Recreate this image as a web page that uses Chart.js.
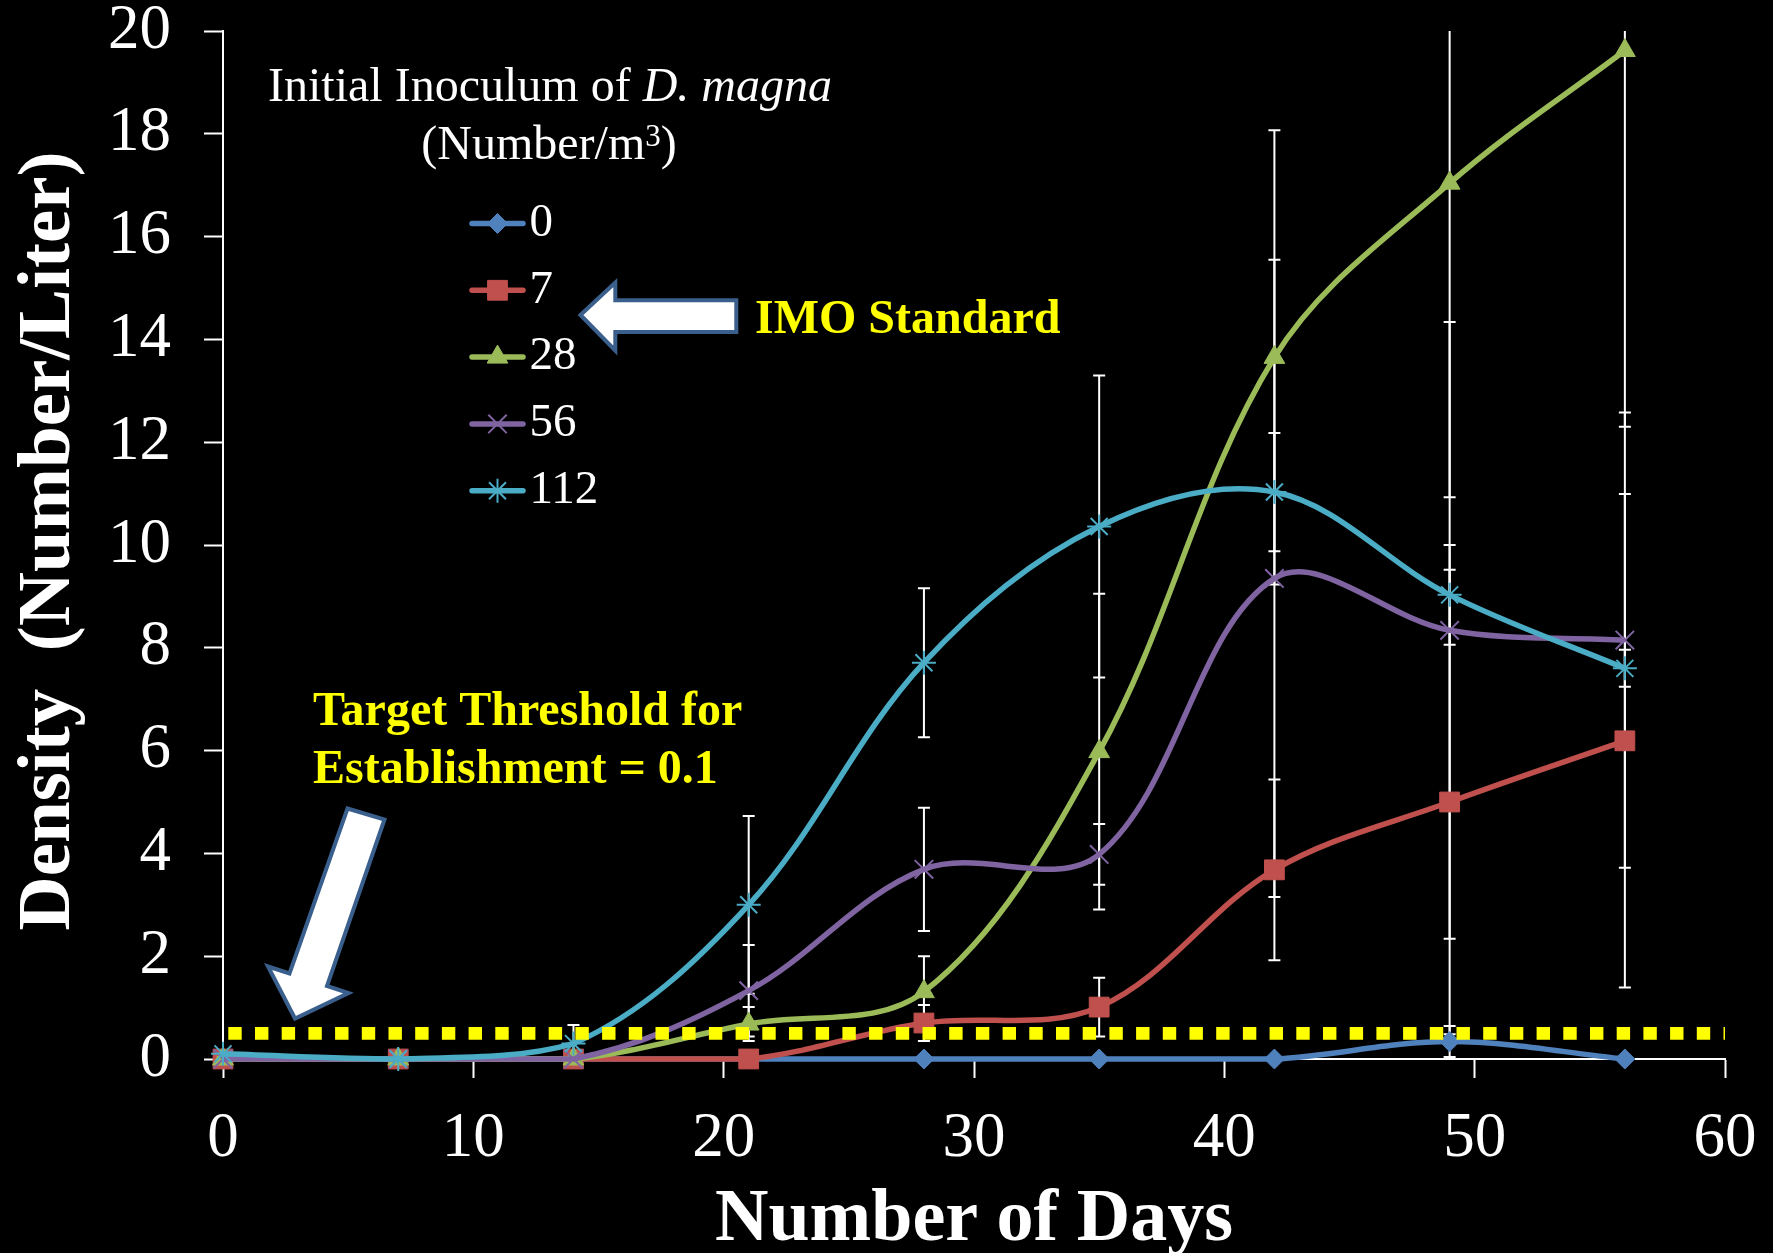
<!DOCTYPE html>
<html>
<head>
<meta charset="utf-8">
<script src="https://cdn.jsdelivr.net/npm/chart.js@4.4.1/dist/chart.umd.min.js"></script>
<style>
  html, body { margin: 0; padding: 0; background: #000; }
  #wrap { width: 1773px; height: 1253px; position: relative; }
  canvas { display: block; }
</style>
</head>
<body>
<div id="wrap"><canvas id="c"></canvas></div>
<script>
// ---------------- data ----------------
const days = [0, 7, 14, 21, 28, 35, 42, 49, 56];
const seriesNames = ['0', '7', '28', '56', '112'];
const density0   = [0, 0, 0, 0, 0, 0, 0, 0.34, 0];
const density7   = [0, 0, 0, 0, 0.70, 1.01, 3.68, 5.00, 6.19];
const density28  = [0, 0, 0, 0.68, 1.31, 5.98, 13.65, 17.04, 19.62];
const density56  = [0, 0, 0, 1.33, 3.69, 3.98, 9.35, 8.34, 8.15];
const density112 = [0.10, 0, 0.30, 3.00, 7.71, 10.36, 11.03, 9.03, 7.60];
const err0   = [0, 0, 0, 0, 0, 0, 0, 0.30, 0];
const err7   = [0, 0, 0, 0, 0.35, 0.57, 1.76, 4.52, 4.80];
const err28  = [0, 0, 0, 0.33, 0.69, 3.07, 4.42, 6.11, 7.32];
const err56  = [0, 0, 0, 0.89, 1.20, 0.59, 6.20, 6.00, 4.43];
const err112 = [0, 0, 0.36, 1.73, 1.45, 2.94, 1.15, 0.97, 0.36];
const thresholdLevel = 0.5;          // drawn level of the yellow threshold line
const thresholdSpan = [0, 60];       // days covered by the threshold line
const xTickValues = [0, 10, 20, 30, 40, 50, 60];
const yTickValues = [0, 2, 4, 6, 8, 10, 12, 14, 16, 18, 20];

const legendTitle1 = ['Initial Inoculum of ', 'D. magna'];
const legendTitle2 = ['(Number/m', '3', ')'];
const xTitle = 'Number of Days';
const yTitle = 'Density  (Number/Liter)';
const noteIMO = 'IMO Standard';
const noteTarget = ['Target Threshold for', 'Establishment = 0.1'];

// ---------------- styles ----------------
const SERIF = "'Liberation Serif', 'Times New Roman', serif";
const values = [density0, density7, density28, density56, density112];
const errors = [err0, err7, err28, err56, err112];
const looks = [
  { color: '#4F81BD', point: 'rectRot',  r: 10, bw: 1 },
  { color: '#C0504D', point: 'rect',     r: 14, bw: 1 },
  { color: '#9BBB59', point: 'triangle', r: 12, bw: 1 },
  { color: '#8064A2', point: 'crossRot', r: 13, bw: 2 },
  { color: '#4BACC6', point: 'star',     r: 12, bw: 2 }
];

const datasets = values.map((vals, s) => ({
  label: seriesNames[s],
  data: days.map((d, i) => ({ x: d, y: vals[i] })),
  borderColor: looks[s].color,
  backgroundColor: looks[s].color,
  borderWidth: 5.5,
  tension: 0.35,
  pointStyle: looks[s].point,
  pointRadius: looks[s].r,
  pointBorderWidth: looks[s].bw,
  pointBorderColor: looks[s].color,
  pointBackgroundColor: looks[s].color,
  clip: 12,
  order: 10 - s
}));
datasets.push({
  label: 'threshold',
  data: thresholdSpan.map(d => ({ x: d, y: thresholdLevel })),
  borderColor: '#FFFF00',
  borderWidth: 12.7,
  borderDash: [13.4, 13.3],
  borderDashOffset: -5.3,
  borderCapStyle: 'butt',
  pointRadius: 0,
  tension: 0,
  order: 0
});

// ---------------- plugins ----------------
const bgPlugin = {
  id: 'bg',
  beforeDraw(chart) {
    const ctx = chart.ctx;
    ctx.save();
    ctx.fillStyle = '#000';
    ctx.fillRect(0, 0, chart.width, chart.height);
    ctx.restore();
  }
};

const errorBarPlugin = {
  id: 'errorBars',
  beforeDatasetsDraw(chart) {
    const { ctx, chartArea, scales } = chart;
    const x = scales.x, y = scales.y;
    ctx.save();
    ctx.beginPath();
    ctx.rect(chartArea.left, chartArea.top, chartArea.right - chartArea.left, chartArea.bottom - chartArea.top);
    ctx.clip();
    ctx.strokeStyle = '#FFFFFF';
    ctx.lineWidth = 2;
    values.forEach((vals, s) => {
      vals.forEach((v, i) => {
        const e = errors[s][i];
        if (!e) return;
        const px = x.getPixelForValue(days[i]);
        const pt = y.getPixelForValue(v + e);
        const pb = y.getPixelForValue(v - e);
        ctx.beginPath();
        ctx.moveTo(px, pt); ctx.lineTo(px, pb);
        ctx.moveTo(px - 6, pt); ctx.lineTo(px + 6, pt);
        ctx.moveTo(px - 6, pb); ctx.lineTo(px + 6, pb);
        ctx.stroke();
      });
    });
    ctx.restore();
  }
};

function drawMarker(ctx, look, cx, cy) {
  ctx.save();
  ctx.fillStyle = look.color;
  ctx.strokeStyle = look.color;
  ctx.lineWidth = look.bw;
  if (Chart.helpers && Chart.helpers.drawPoint) {
    Chart.helpers.drawPoint(ctx, { pointStyle: look.point, radius: look.r, borderWidth: look.bw, rotation: 0 }, cx, cy);
  }
  ctx.restore();
}

function polygon(ctx, pts) {
  ctx.beginPath();
  ctx.moveTo(pts[0][0], pts[0][1]);
  for (let i = 1; i < pts.length; i++) ctx.lineTo(pts[i][0], pts[i][1]);
  ctx.closePath();
  ctx.fillStyle = '#FFFFFF';
  ctx.fill();
  ctx.lineWidth = 4;
  ctx.lineJoin = 'miter';
  ctx.strokeStyle = '#3A5F8C';
  ctx.stroke();
}

const annotationPlugin = {
  id: 'annotations',
  afterDraw(chart) {
    const ctx = chart.ctx;
    const area = chart.chartArea;
    ctx.save();

    // axis titles
    ctx.fillStyle = '#FFFFFF';
    ctx.font = 'bold 74px ' + SERIF;
    ctx.textAlign = 'center';
    ctx.textBaseline = 'alphabetic';
    ctx.fillText(xTitle, (area.left + area.right) / 2, 1240);
    ctx.save();
    ctx.translate(69, 541);
    ctx.rotate(-Math.PI / 2);
    ctx.font = 'bold 75px ' + SERIF;
    ctx.fillText(yTitle, 0, 0);
    ctx.restore();

    // legend title
    ctx.textAlign = 'left';
    ctx.font = '48px ' + SERIF;
    const w1a = ctx.measureText(legendTitle1[0]).width;
    ctx.font = 'italic 48px ' + SERIF;
    const w1b = ctx.measureText(legendTitle1[1]).width;
    let sx = 550 - (w1a + w1b) / 2;
    ctx.font = '48px ' + SERIF;
    ctx.fillText(legendTitle1[0], sx, 101);
    ctx.font = 'italic 48px ' + SERIF;
    ctx.fillText(legendTitle1[1], sx + w1a, 101);

    ctx.font = '48px ' + SERIF;
    const w2a = ctx.measureText(legendTitle2[0]).width;
    const w2c = ctx.measureText(legendTitle2[2]).width;
    ctx.font = '31px ' + SERIF;
    const w2b = ctx.measureText(legendTitle2[1]).width;
    sx = 549 - (w2a + w2b + w2c) / 2;
    ctx.font = '48px ' + SERIF;
    ctx.fillText(legendTitle2[0], sx, 159);
    ctx.font = '31px ' + SERIF;
    ctx.fillText(legendTitle2[1], sx + w2a, 146);
    ctx.font = '48px ' + SERIF;
    ctx.fillText(legendTitle2[2], sx + w2a + w2b, 159);

    // legend items
    const itemY0 = 223.5, itemStep = 66.8;
    seriesNames.forEach((name, s) => {
      const cy = itemY0 + s * itemStep;
      ctx.save();
      ctx.strokeStyle = looks[s].color;
      ctx.lineWidth = 5.5;
      ctx.lineCap = 'round';
      ctx.beginPath();
      ctx.moveTo(472, cy); ctx.lineTo(523, cy);
      ctx.stroke();
      ctx.restore();
      drawMarker(ctx, looks[s], 497.5, cy);
      ctx.fillStyle = '#FFFFFF';
      ctx.font = '47px ' + SERIF;
      ctx.textAlign = 'left';
      ctx.textBaseline = 'middle';
      ctx.fillText(name, 529.5, cy);
    });

    // arrows
    polygon(ctx, [[580.5, 315], [615.3, 282.5], [615.3, 300.3], [736.3, 300.3], [736.3, 332], [615.3, 332], [615.3, 350.5]]);
    polygon(ctx, [[347.5, 808.5], [384.5, 819.5], [327, 986], [348.5, 993], [295, 1018.5], [268, 966.5], [289.5, 973.5]]);

    // yellow notes
    ctx.fillStyle = '#FFFF00';
    ctx.font = 'bold 48px ' + SERIF;
    ctx.textAlign = 'left';
    ctx.textBaseline = 'alphabetic';
    ctx.fillText(noteIMO, 755, 332.7);
    ctx.fillText(noteTarget[0], 313, 725);
    ctx.fillText(noteTarget[1], 313, 782.7);

    ctx.restore();
  }
};

// ---------------- chart ----------------
const tickFont = { family: SERIF, size: 63 };
new Chart(document.getElementById('c'), {
  type: 'line',
  data: { datasets },
  options: {
    responsive: true,
    maintainAspectRatio: false,
    animation: false,
    events: [],
    layout: { padding: { left: 0, top: 31, right: 48, bottom: 0 } },
    plugins: { legend: { display: false }, tooltip: { enabled: false } },
    scales: {
      x: {
        type: 'linear',
        min: xTickValues[0],
        max: xTickValues[xTickValues.length - 1],
        afterBuildTicks: (scale) => { scale.ticks = xTickValues.map(v => ({ value: v })); },
        afterFit: (scale) => { scale.height = 194; scale.paddingLeft = 0; scale.paddingRight = 0; },
        ticks: { color: '#FFFFFF', font: tickFont, padding: 24, maxRotation: 0, autoSkip: false },
        grid: { drawOnChartArea: false, drawTicks: true, tickLength: 19, tickColor: '#FFFFFF', tickWidth: 2 },
        border: { display: true, color: '#FFFFFF', width: 2 }
      },
      y: {
        type: 'linear',
        min: yTickValues[0],
        max: yTickValues[yTickValues.length - 1],
        afterBuildTicks: (scale) => { scale.ticks = yTickValues.map(v => ({ value: v })); },
        afterFit: (scale) => { scale.width = 223; scale.paddingTop = 0; scale.paddingBottom = 0; },
        ticks: { color: '#FFFFFF', font: tickFont, padding: 33, autoSkip: false },
        grid: { drawOnChartArea: false, drawTicks: true, tickLength: 19, tickColor: '#FFFFFF', tickWidth: 2 },
        border: { display: true, color: '#FFFFFF', width: 2 }
      }
    }
  },
  plugins: [bgPlugin, errorBarPlugin, annotationPlugin]
});
</script>
</body>
</html>
